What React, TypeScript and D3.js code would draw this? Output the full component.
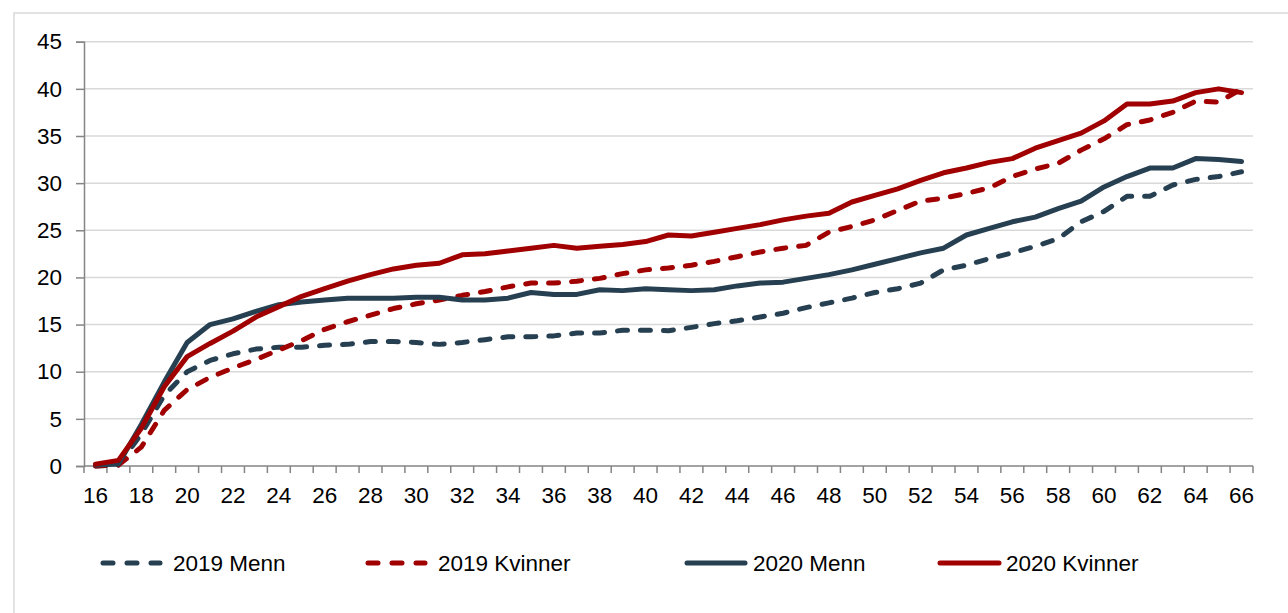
import React, { useEffect, useRef } from "react";
import * as d3 from "d3";

const ages = d3.range(16, 67);

const menn2019 = [
  0.0, 0.1, 3.4, 7.5, 10.0, 11.2, 11.9, 12.4, 12.6, 12.6, 12.8, 12.9, 13.2, 13.2, 13.1, 12.9, 13.1,
  13.4, 13.7, 13.7, 13.8, 14.1, 14.1, 14.4, 14.4, 14.35, 14.7, 15.1, 15.4, 15.8, 16.2, 16.8, 17.3,
  17.8, 18.4, 18.8, 19.4, 20.8, 21.3, 22.0, 22.6, 23.3, 24.1, 25.9, 27.0, 28.6, 28.6, 29.8, 30.4,
  30.7, 31.2,
];
const kvinner2019 = [
  0.0, 0.1, 2.0, 5.9, 8.1, 9.4, 10.4, 11.3, 12.3, 13.3, 14.5, 15.3, 16.0, 16.7, 17.2, 17.6, 18.1,
  18.5, 19.0, 19.4, 19.4, 19.6, 19.9, 20.4, 20.8, 21.0, 21.3, 21.7, 22.2, 22.7, 23.1, 23.4, 24.8,
  25.4, 26.1, 27.1, 28.1, 28.4, 28.9, 29.5, 30.7, 31.5, 32.1, 33.5, 34.7, 36.2, 36.7, 37.5, 38.7,
  38.6, 40.0,
];
const menn2020 = [
  0.1, 0.2, 4.4, 8.9, 13.1, 15.0, 15.6, 16.4, 17.1, 17.4, 17.6, 17.8, 17.8, 17.8, 17.9, 17.9, 17.6,
  17.6, 17.8, 18.4, 18.2, 18.2, 18.7, 18.6, 18.8, 18.7, 18.6, 18.7, 19.1, 19.4, 19.5, 19.9, 20.3,
  20.8, 21.4, 22.0, 22.6, 23.1, 24.5, 25.2, 25.9, 26.4, 27.3, 28.1, 29.6, 30.7, 31.6, 31.6, 32.6,
  32.5, 32.3,
];
const kvinner2020 = [
  0.2, 0.6, 4.0, 8.4, 11.6, 13.0, 14.3, 15.8, 16.9, 18.0, 18.8, 19.6, 20.3, 20.9, 21.3, 21.5, 22.4,
  22.5, 22.8, 23.1, 23.4, 23.1, 23.3, 23.5, 23.8, 24.5, 24.4, 24.8, 25.2, 25.6, 26.1, 26.5, 26.8,
  28.0, 28.7, 29.4, 30.3, 31.1, 31.6, 32.2, 32.6, 33.7, 34.5, 35.3, 36.6, 38.4, 38.4, 38.7, 39.6,
  40.0, 39.6,
];

const yTicks = [0, 5, 10, 15, 20, 25, 30, 35, 40, 45];
const xLabels = ages.filter((a) => a % 2 === 0);

const DARK = "#263f51";
const RED = "#a00000";
const DASH = "10 13";

const series = [
  { name: "2019 Menn", values: menn2019, color: DARK, dashed: true },
  { name: "2019 Kvinner", values: kvinner2019, color: RED, dashed: true },
  { name: "2020 Menn", values: menn2020, color: DARK, dashed: false },
  { name: "2020 Kvinner", values: kvinner2020, color: RED, dashed: false },
];

const width = 1288;
const height = 613;
const left = 84;
const right = 1253;
const top = 41.7;
const bottom = 466;
const font = "'Liberation Sans', Arial, sans-serif";

const App = () => {
  const ref = useRef<SVGSVGElement>(null);

  useEffect(() => {
    const svg = d3.select(ref.current);
    svg.selectAll("*").remove();

    // chart border (cut off at right and bottom in the reference)
    svg
      .append("rect")
      .attr("x", 14)
      .attr("y", 13)
      .attr("width", width + 20)
      .attr("height", height + 20)
      .attr("fill", "#fff")
      .attr("stroke", "#d9d9d9")
      .attr("stroke-width", 1.5);

    const x = d3.scaleBand<number>().domain(ages).range([left, right]);
    const cx = (a: number) => (x(a) as number) + x.bandwidth() / 2;
    const y = d3.scaleLinear().domain([0, 45]).range([bottom, top]);

    // gridlines
    svg
      .append("g")
      .selectAll("line")
      .data(yTicks.filter((t) => t > 0))
      .enter()
      .append("line")
      .attr("x1", left)
      .attr("x2", right)
      .attr("y1", (d) => y(d))
      .attr("y2", (d) => y(d))
      .attr("stroke", "#d9d9d9")
      .attr("stroke-width", 1.5);

    // y axis
    const yAxis = svg
      .append("g")
      .attr("transform", `translate(${left},0)`)
      .call(d3.axisLeft(y).tickValues(yTicks).tickSize(8).tickPadding(14));
    yAxis.select(".domain").attr("stroke", "#858585").attr("stroke-width", 1.5);
    yAxis.selectAll(".tick line").attr("stroke", "#858585").attr("stroke-width", 1.5);
    yAxis
      .selectAll(".tick text")
      .attr("font-family", font)
      .attr("font-size", 22.5)
      .attr("fill", "#000");

    // x axis: ticks between categories, labels on every second age
    const xg = svg.append("g");
    xg.append("line")
      .attr("x1", left)
      .attr("x2", right)
      .attr("y1", bottom)
      .attr("y2", bottom)
      .attr("stroke", "#858585")
      .attr("stroke-width", 1.5);
    xg.selectAll("line.tk")
      .data([...ages.map((a) => x(a) as number), right])
      .enter()
      .append("line")
      .attr("class", "tk")
      .attr("x1", (d) => d)
      .attr("x2", (d) => d)
      .attr("y1", bottom)
      .attr("y2", bottom + 7)
      .attr("stroke", "#858585")
      .attr("stroke-width", 1.5);
    xg.selectAll("text")
      .data(xLabels)
      .enter()
      .append("text")
      .attr("x", (d) => cx(d))
      .attr("y", 503)
      .attr("text-anchor", "middle")
      .attr("font-family", font)
      .attr("font-size", 22.5)
      .attr("fill", "#000")
      .text((d) => d);

    // lines
    const line = d3
      .line<number>()
      .x((_, i) => cx(ages[i]))
      .y((d) => y(d));

    svg
      .append("g")
      .selectAll("path")
      .data(series)
      .enter()
      .append("path")
      .attr("d", (s) => line(s.values))
      .attr("fill", "none")
      .attr("stroke", (s) => s.color)
      .attr("stroke-width", 5)
      .attr("stroke-linejoin", "round")
      .attr("stroke-linecap", "round")
      .attr("stroke-dasharray", (s) => (s.dashed ? DASH : null));

    // legend
    const legendPos = [
      { x1: 103, x2: 160, tx: 173 },
      { x1: 368, x2: 425, tx: 438 },
      { x1: 687, x2: 745, tx: 753 },
      { x1: 940, x2: 999, tx: 1006 },
    ];
    const ly = 563;
    const lg = svg
      .append("g")
      .selectAll("g")
      .data(series)
      .enter()
      .append("g");
    lg.append("line")
      .attr("x1", (_, i) => legendPos[i].x1)
      .attr("x2", (_, i) => legendPos[i].x2)
      .attr("y1", ly)
      .attr("y2", ly)
      .attr("stroke", (s) => s.color)
      .attr("stroke-width", 5)
      .attr("stroke-linecap", "round")
      .attr("stroke-dasharray", (s) => (s.dashed ? "10 14" : null));
    lg.append("text")
      .attr("x", (_, i) => legendPos[i].tx)
      .attr("y", ly + 8)
      .attr("font-family", font)
      .attr("font-size", 22.5)
      .attr("fill", "#000")
      .text((s) => s.name);
  }, []);

  return (
    <svg
      ref={ref}
      width={width}
      height={height}
      style={{ position: "absolute", left: 0, top: 0, background: "#fff" }}
    ></svg>
  );
};

export default App;
